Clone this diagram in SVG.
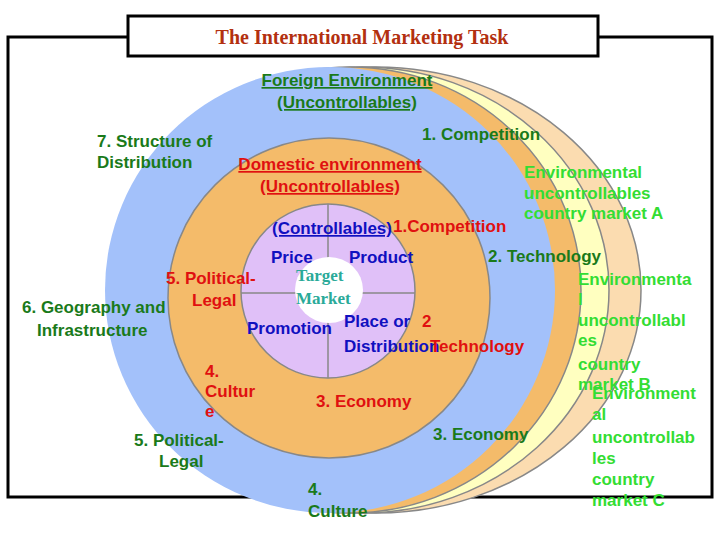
<svg xmlns="http://www.w3.org/2000/svg" width="720" height="540" viewBox="0 0 720 540">
<style>
text{font-family:"Liberation Sans",Arial,sans-serif;font-weight:bold;font-size:17px}
.g{fill:#1a7a1a}.lg{fill:#33dd33}.r{fill:#e01010}.b{fill:#1010c0}
.ser{font-family:"Liberation Serif","Times New Roman",serif;fill:#2aaa99;font-size:17px}
.ring{stroke:#888;stroke-width:1.5}
</style>
<rect width="720" height="540" fill="#fff"/>
<rect x="8" y="37" width="704" height="460" fill="none" stroke="#000" stroke-width="3"/>
<g id="rings">
<ellipse cx="376" cy="290" rx="265" ry="223" fill="#fbdcb0" class="ring"/>
<ellipse cx="362" cy="290" rx="247" ry="223" fill="#ffffc0" class="ring"/>
<ellipse cx="350" cy="290" rx="231" ry="223" fill="#f4bb6a" class="ring"/>
<ellipse cx="330" cy="290" rx="225" ry="223" fill="#a3c1fa"/>
<ellipse cx="329" cy="298" rx="161" ry="160" fill="#f4bb6a" class="ring"/>
<ellipse cx="328" cy="291" rx="87" ry="87" fill="#e0c0f8" class="ring"/>
<line x1="328" y1="204" x2="328" y2="378" class="ring"/>
<line x1="241" y1="293" x2="415" y2="293" class="ring"/>
<ellipse cx="329" cy="290" rx="34" ry="33" fill="#fff"/>
</g>
<g id="title"><rect x="128" y="16" width="470" height="40" fill="#fff" stroke="#000" stroke-width="3"/>
<text x="362" y="44" text-anchor="middle" style="font-family:'Liberation Serif',serif;font-size:20px;fill:#b33010">The International Marketing Task</text></g>
<g id="labels">
<text x="347" y="86" text-anchor="middle" class="g" text-decoration="underline">Foreign Environment</text>
<text x="347" y="108" text-anchor="middle" class="g" text-decoration="underline">(Uncontrollables)</text>
<text x="97" y="147" class="g">7. Structure of</text>
<text x="97" y="168" class="g">Distribution</text>
<text x="422" y="140" class="g">1. Competition</text>
<text x="330" y="170" text-anchor="middle" class="r" text-decoration="underline">Domestic environment</text>
<text x="330" y="192" text-anchor="middle" class="r" text-decoration="underline">(Uncontrollables)</text>
<text x="524" y="178" class="lg">Environmental</text>
<text x="524" y="199" class="lg">uncontrollables</text>
<text x="524" y="219" class="lg">country market A</text>
<text x="272" y="234" class="b" text-decoration="underline">(Controllables)</text>
<text x="393" y="232" class="r">1.Competition</text>
<text x="271" y="263" class="b">Price</text>
<text x="349" y="263" class="b">Product</text>
<text x="488" y="262" class="g">2. Technology</text>
<text x="296" y="281" class="ser">Target</text>
<text x="296" y="304" class="ser">Market</text>
<text x="166" y="284" class="r">5. Political-</text>
<text x="192" y="306" class="r">Legal</text>
<text x="22" y="313" class="g">6. Geography and</text>
<text x="37" y="336" class="g">Infrastructure</text>
<text x="247" y="334" class="b">Promotion</text>
<text x="344" y="327" class="b">Place or</text>
<text x="344" y="352" class="b">Distribution</text>
<text x="422" y="327" class="r">2</text>
<text x="430" y="352" class="r">Technology</text>
<text x="578" y="285" class="lg">Environmenta</text>
<text x="578" y="305" class="lg">l</text>
<text x="578" y="326" class="lg">uncontrollabl</text>
<text x="578" y="346" class="lg">es</text>
<text x="578" y="370" class="lg">country</text>
<text x="578" y="390" class="lg">market B</text>
<text x="205" y="377" class="r">4.</text>
<text x="205" y="397" class="r">Cultur</text>
<text x="205" y="417" class="r">e</text>
<text x="316" y="407" class="r">3. Economy</text>
<text x="134" y="446" class="g">5. Political-</text>
<text x="159" y="467" class="g">Legal</text>
<text x="433" y="440" class="g">3. Economy</text>
<text x="592" y="399" class="lg">Environment</text>
<text x="592" y="420" class="lg">al</text>
<text x="592" y="443" class="lg">uncontrollab</text>
<text x="592" y="464" class="lg">les</text>
<text x="592" y="485" class="lg">country</text>
<text x="592" y="506" class="lg">market C</text>
<text x="308" y="495" class="g">4.</text>
<text x="308" y="517" class="g">Culture</text>
</g>
</svg>
